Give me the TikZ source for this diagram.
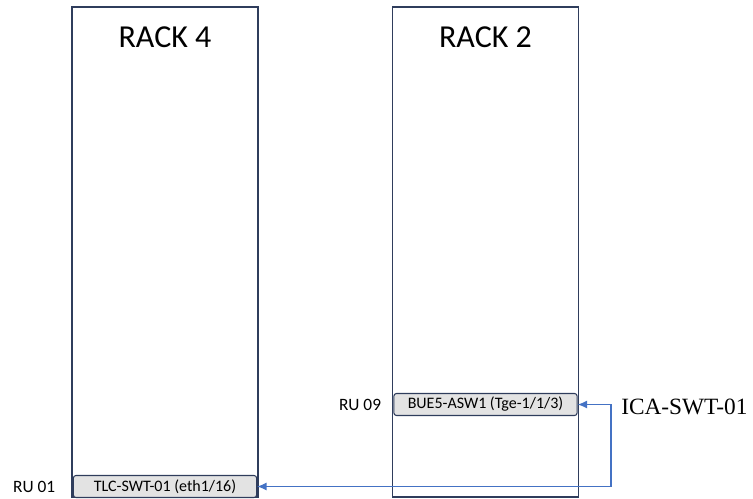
\documentclass[tikz,border=0pt]{standalone}
\usepackage{fontspec}
\setmainfont{Carlito}
\newfontfamily\serifface{Liberation Serif}
\usepackage{tikz}
\usetikzlibrary{positioning,arrows.meta}

\definecolor{rackline}{HTML}{2F3D5C}
\definecolor{devfill}{HTML}{E3E3E3}
\definecolor{linkblue}{HTML}{4472C4}

\begin{document}
\begin{tikzpicture}[x=0.75pt,y=-0.75pt,
		rack/.style={draw=rackline,line width=0.8pt,minimum width=139.5pt,minimum height=367.5pt,inner sep=0pt},
		racktitle/.style={font=\fontsize{24}{28}\selectfont,inner sep=0pt},
		device/.style={draw=rackline,fill=devfill,rounded corners=2pt,line width=0.8pt,minimum width=137.5pt,minimum height=16.5pt,inner sep=0pt,font=\fontsize{12}{14}\selectfont},
		rulabel/.style={font=\fontsize{13}{15}\selectfont,inner sep=0pt},
		link/.style={draw=linkblue,line width=0.9pt,{Latex[length=7pt,width=6pt]}-{Latex[length=7pt,width=6pt]}}]
		\useasboundingbox (0,0) rectangle (753,499);
		% racks
		\node[rack] (rack4) at (165,252) {};
		\node[rack] (rack2) at (485.5,252) {};
		\node[racktitle] (title4) at (165,37) {RACK 4};
		\node[racktitle] (title2) at (485.5,37) {RACK 2};
		% devices
		\node[device] (tlc) at (165,486.5) {TLC-SWT-01 (eth1/16)};
		\node[device] (bue) at (485.5,404.5) {BUE5-ASW1 (Tge-1/1/3)};
		\node[rulabel,left=13pt of tlc] (ru01) {RU 01};
		\node[rulabel,left=9pt of bue] (ru09) {RU 09};
		% link
		\coordinate (turn) at (611,404.5);
		\node[font=\serifface\fontsize{17.5}{20}\selectfont,inner sep=0pt,anchor=west] (ica) at (621,407) {ICA-SWT-01};
		\draw[link] (bue.east) -- (turn) |- (tlc.east);
	\end{tikzpicture}
\end{document}
